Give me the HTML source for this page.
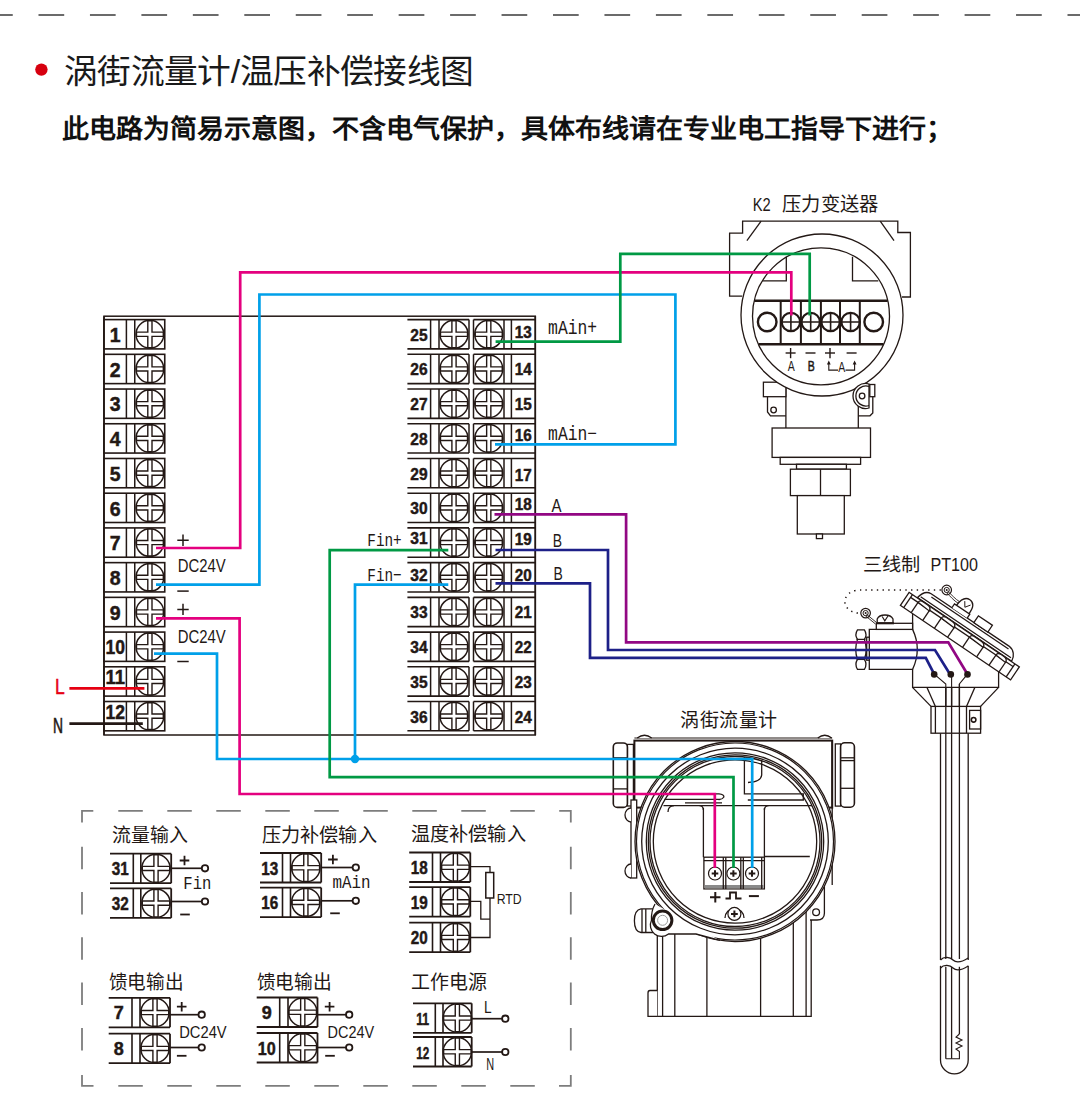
<!DOCTYPE html><html lang="zh-CN"><head><meta charset="utf-8"><style>html,body{margin:0;padding:0;background:#fff;}svg{display:block;font-family:"Liberation Sans",sans-serif;}</style></head><body>
<svg width="1080" height="1114" viewBox="0 0 1080 1114">
<line x1="-12.95" y1="15" x2="1080" y2="15" stroke="#6b6b6b" stroke-width="2.2" stroke-dasharray="25.7 25.75"/>
<circle cx="41.4" cy="69.6" r="6.2" stroke="none" stroke-width="0" fill="#d7000f" />
<text x="64" y="83" font-size="33.4" fill="#1a1a1a" font-weight="normal" text-anchor="start" font-family="Liberation Sans" textLength="409.5" lengthAdjust="spacingAndGlyphs" >涡街流量计/温压补偿接线图</text>
<text x="62" y="137.5" font-size="26" fill="#111" font-weight="bold" text-anchor="start" font-family="Liberation Sans" textLength="891" lengthAdjust="spacingAndGlyphs" >此电路为简易示意图，不含电气保护，具体布线请在专业电工指导下进行；</text>
<rect x="104" y="316.2" width="431.3" height="418.8" stroke="#231815" stroke-width="1.5" fill="none" />
<rect x="104" y="319.6" width="60.75" height="29.3" stroke="#231815" stroke-width="1.6" fill="#fff" />
<line x1="126.4" y1="319.6" x2="126.4" y2="348.9" stroke="#231815" stroke-width="1.5" />
<line x1="134.75" y1="319.6" x2="134.75" y2="348.9" stroke="#231815" stroke-width="1.5" />
<circle cx="149.9" cy="334.25" r="13.9" stroke="#231815" stroke-width="1.5" fill="#fff" />
<path d="M136 334.25 H163.8 M149.9 320.35 V348.15" stroke="#231815" stroke-width="5.6"/>
<path d="M137.2 334.25 H162.6 M149.9 321.55 V346.95" stroke="#fff" stroke-width="2.8"/>
<text x="115.2" y="342" font-size="19.5" fill="#231815" font-weight="bold" text-anchor="middle" font-family="Liberation Sans" stroke="#231815" stroke-width="0.45">1</text>
<rect x="104" y="354.32" width="60.75" height="29.3" stroke="#231815" stroke-width="1.6" fill="#fff" />
<line x1="126.4" y1="354.32" x2="126.4" y2="383.62" stroke="#231815" stroke-width="1.5" />
<line x1="134.75" y1="354.32" x2="134.75" y2="383.62" stroke="#231815" stroke-width="1.5" />
<circle cx="149.9" cy="368.97" r="13.9" stroke="#231815" stroke-width="1.5" fill="#fff" />
<path d="M136 368.97 H163.8 M149.9 355.07 V382.87" stroke="#231815" stroke-width="5.6"/>
<path d="M137.2 368.97 H162.6 M149.9 356.27 V381.67" stroke="#fff" stroke-width="2.8"/>
<text x="115.2" y="376.72" font-size="19.5" fill="#231815" font-weight="bold" text-anchor="middle" font-family="Liberation Sans" stroke="#231815" stroke-width="0.45">2</text>
<rect x="104" y="389.04" width="60.75" height="29.3" stroke="#231815" stroke-width="1.6" fill="#fff" />
<line x1="126.4" y1="389.04" x2="126.4" y2="418.34" stroke="#231815" stroke-width="1.5" />
<line x1="134.75" y1="389.04" x2="134.75" y2="418.34" stroke="#231815" stroke-width="1.5" />
<circle cx="149.9" cy="403.69" r="13.9" stroke="#231815" stroke-width="1.5" fill="#fff" />
<path d="M136 403.69 H163.8 M149.9 389.79 V417.59" stroke="#231815" stroke-width="5.6"/>
<path d="M137.2 403.69 H162.6 M149.9 390.99 V416.39" stroke="#fff" stroke-width="2.8"/>
<text x="115.2" y="411.44" font-size="19.5" fill="#231815" font-weight="bold" text-anchor="middle" font-family="Liberation Sans" stroke="#231815" stroke-width="0.45">3</text>
<rect x="104" y="423.76" width="60.75" height="29.3" stroke="#231815" stroke-width="1.6" fill="#fff" />
<line x1="126.4" y1="423.76" x2="126.4" y2="453.06" stroke="#231815" stroke-width="1.5" />
<line x1="134.75" y1="423.76" x2="134.75" y2="453.06" stroke="#231815" stroke-width="1.5" />
<circle cx="149.9" cy="438.41" r="13.9" stroke="#231815" stroke-width="1.5" fill="#fff" />
<path d="M136 438.41 H163.8 M149.9 424.51 V452.31" stroke="#231815" stroke-width="5.6"/>
<path d="M137.2 438.41 H162.6 M149.9 425.71 V451.11" stroke="#fff" stroke-width="2.8"/>
<text x="115.2" y="446.16" font-size="19.5" fill="#231815" font-weight="bold" text-anchor="middle" font-family="Liberation Sans" stroke="#231815" stroke-width="0.45">4</text>
<rect x="104" y="458.48" width="60.75" height="29.3" stroke="#231815" stroke-width="1.6" fill="#fff" />
<line x1="126.4" y1="458.48" x2="126.4" y2="487.78" stroke="#231815" stroke-width="1.5" />
<line x1="134.75" y1="458.48" x2="134.75" y2="487.78" stroke="#231815" stroke-width="1.5" />
<circle cx="149.9" cy="473.13" r="13.9" stroke="#231815" stroke-width="1.5" fill="#fff" />
<path d="M136 473.13 H163.8 M149.9 459.23 V487.03" stroke="#231815" stroke-width="5.6"/>
<path d="M137.2 473.13 H162.6 M149.9 460.43 V485.83" stroke="#fff" stroke-width="2.8"/>
<text x="115.2" y="480.88" font-size="19.5" fill="#231815" font-weight="bold" text-anchor="middle" font-family="Liberation Sans" stroke="#231815" stroke-width="0.45">5</text>
<rect x="104" y="493.2" width="60.75" height="29.3" stroke="#231815" stroke-width="1.6" fill="#fff" />
<line x1="126.4" y1="493.2" x2="126.4" y2="522.5" stroke="#231815" stroke-width="1.5" />
<line x1="134.75" y1="493.2" x2="134.75" y2="522.5" stroke="#231815" stroke-width="1.5" />
<circle cx="149.9" cy="507.85" r="13.9" stroke="#231815" stroke-width="1.5" fill="#fff" />
<path d="M136 507.85 H163.8 M149.9 493.95 V521.75" stroke="#231815" stroke-width="5.6"/>
<path d="M137.2 507.85 H162.6 M149.9 495.15 V520.55" stroke="#fff" stroke-width="2.8"/>
<text x="115.2" y="515.6" font-size="19.5" fill="#231815" font-weight="bold" text-anchor="middle" font-family="Liberation Sans" stroke="#231815" stroke-width="0.45">6</text>
<rect x="104" y="527.92" width="60.75" height="29.3" stroke="#231815" stroke-width="1.6" fill="#fff" />
<line x1="126.4" y1="527.92" x2="126.4" y2="557.22" stroke="#231815" stroke-width="1.5" />
<line x1="134.75" y1="527.92" x2="134.75" y2="557.22" stroke="#231815" stroke-width="1.5" />
<circle cx="149.9" cy="542.57" r="13.9" stroke="#231815" stroke-width="1.5" fill="#fff" />
<path d="M136 542.57 H163.8 M149.9 528.67 V556.47" stroke="#231815" stroke-width="5.6"/>
<path d="M137.2 542.57 H162.6 M149.9 529.87 V555.27" stroke="#fff" stroke-width="2.8"/>
<text x="115.2" y="550.32" font-size="19.5" fill="#231815" font-weight="bold" text-anchor="middle" font-family="Liberation Sans" stroke="#231815" stroke-width="0.45">7</text>
<rect x="104" y="562.64" width="60.75" height="29.3" stroke="#231815" stroke-width="1.6" fill="#fff" />
<line x1="126.4" y1="562.64" x2="126.4" y2="591.94" stroke="#231815" stroke-width="1.5" />
<line x1="134.75" y1="562.64" x2="134.75" y2="591.94" stroke="#231815" stroke-width="1.5" />
<circle cx="149.9" cy="577.29" r="13.9" stroke="#231815" stroke-width="1.5" fill="#fff" />
<path d="M136 577.29 H163.8 M149.9 563.39 V591.19" stroke="#231815" stroke-width="5.6"/>
<path d="M137.2 577.29 H162.6 M149.9 564.59 V589.99" stroke="#fff" stroke-width="2.8"/>
<text x="115.2" y="585.04" font-size="19.5" fill="#231815" font-weight="bold" text-anchor="middle" font-family="Liberation Sans" stroke="#231815" stroke-width="0.45">8</text>
<rect x="104" y="597.36" width="60.75" height="29.3" stroke="#231815" stroke-width="1.6" fill="#fff" />
<line x1="126.4" y1="597.36" x2="126.4" y2="626.66" stroke="#231815" stroke-width="1.5" />
<line x1="134.75" y1="597.36" x2="134.75" y2="626.66" stroke="#231815" stroke-width="1.5" />
<circle cx="149.9" cy="612.01" r="13.9" stroke="#231815" stroke-width="1.5" fill="#fff" />
<path d="M136 612.01 H163.8 M149.9 598.11 V625.91" stroke="#231815" stroke-width="5.6"/>
<path d="M137.2 612.01 H162.6 M149.9 599.31 V624.71" stroke="#fff" stroke-width="2.8"/>
<text x="115.2" y="619.76" font-size="19.5" fill="#231815" font-weight="bold" text-anchor="middle" font-family="Liberation Sans" stroke="#231815" stroke-width="0.45">9</text>
<rect x="104" y="632.08" width="60.75" height="29.3" stroke="#231815" stroke-width="1.6" fill="#fff" />
<line x1="126.4" y1="632.08" x2="126.4" y2="661.38" stroke="#231815" stroke-width="1.5" />
<line x1="134.75" y1="632.08" x2="134.75" y2="661.38" stroke="#231815" stroke-width="1.5" />
<circle cx="149.9" cy="646.73" r="13.9" stroke="#231815" stroke-width="1.5" fill="#fff" />
<path d="M136 646.73 H163.8 M149.9 632.83 V660.63" stroke="#231815" stroke-width="5.6"/>
<path d="M137.2 646.73 H162.6 M149.9 634.03 V659.43" stroke="#fff" stroke-width="2.8"/>
<text x="115.2" y="654.48" font-size="19.5" fill="#231815" font-weight="bold" text-anchor="middle" font-family="Liberation Sans" textLength="19.5" lengthAdjust="spacingAndGlyphs" stroke="#231815" stroke-width="0.45">10</text>
<rect x="104" y="666.8" width="60.75" height="29.3" stroke="#231815" stroke-width="1.6" fill="#fff" />
<line x1="126.4" y1="666.8" x2="126.4" y2="696.1" stroke="#231815" stroke-width="1.5" />
<line x1="134.75" y1="666.8" x2="134.75" y2="696.1" stroke="#231815" stroke-width="1.5" />
<circle cx="149.9" cy="681.45" r="13.9" stroke="#231815" stroke-width="1.5" fill="#fff" />
<path d="M136 681.45 H163.8 M149.9 667.55 V695.35" stroke="#231815" stroke-width="5.6"/>
<path d="M137.2 681.45 H162.6 M149.9 668.75 V694.15" stroke="#fff" stroke-width="2.8"/>
<text x="115.2" y="684.1" font-size="19.5" fill="#231815" font-weight="bold" text-anchor="middle" font-family="Liberation Sans" textLength="19.5" lengthAdjust="spacingAndGlyphs" stroke="#231815" stroke-width="0.45">11</text>
<rect x="104" y="701.52" width="60.75" height="29.3" stroke="#231815" stroke-width="1.6" fill="#fff" />
<line x1="126.4" y1="701.52" x2="126.4" y2="730.82" stroke="#231815" stroke-width="1.5" />
<line x1="134.75" y1="701.52" x2="134.75" y2="730.82" stroke="#231815" stroke-width="1.5" />
<circle cx="149.9" cy="716.17" r="13.9" stroke="#231815" stroke-width="1.5" fill="#fff" />
<path d="M136 716.17 H163.8 M149.9 702.27 V730.07" stroke="#231815" stroke-width="5.6"/>
<path d="M137.2 716.17 H162.6 M149.9 703.47 V728.87" stroke="#fff" stroke-width="2.8"/>
<text x="115.2" y="718.82" font-size="19.5" fill="#231815" font-weight="bold" text-anchor="middle" font-family="Liberation Sans" textLength="19.5" lengthAdjust="spacingAndGlyphs" stroke="#231815" stroke-width="0.45">12</text>
<line x1="407.4" y1="319.6" x2="469" y2="319.6" stroke="#231815" stroke-width="1.6" />
<line x1="407.4" y1="348.9" x2="469" y2="348.9" stroke="#231815" stroke-width="1.6" />
<line x1="473.5" y1="319.6" x2="535" y2="319.6" stroke="#231815" stroke-width="1.6" />
<line x1="473.5" y1="348.9" x2="535" y2="348.9" stroke="#231815" stroke-width="1.6" />
<line x1="430.6" y1="319.6" x2="430.6" y2="348.9" stroke="#231815" stroke-width="1.5" />
<line x1="439" y1="319.6" x2="439" y2="348.9" stroke="#231815" stroke-width="1.5" />
<line x1="469" y1="319.6" x2="469" y2="348.9" stroke="#231815" stroke-width="1.5" />
<line x1="473.5" y1="319.6" x2="473.5" y2="348.9" stroke="#231815" stroke-width="1.5" />
<line x1="504" y1="319.6" x2="504" y2="348.9" stroke="#231815" stroke-width="1.5" />
<line x1="511.4" y1="319.6" x2="511.4" y2="348.9" stroke="#231815" stroke-width="1.5" />
<circle cx="454" cy="334.25" r="14" stroke="#231815" stroke-width="1.5" fill="#fff" />
<path d="M440 334.25 H468 M454 320.25 V348.25" stroke="#231815" stroke-width="5.6"/>
<path d="M441.2 334.25 H466.8 M454 321.45 V347.05" stroke="#fff" stroke-width="2.8"/>
<circle cx="488.75" cy="334.25" r="14" stroke="#231815" stroke-width="1.5" fill="#fff" />
<path d="M474.75 334.25 H502.75 M488.75 320.25 V348.25" stroke="#231815" stroke-width="5.6"/>
<path d="M475.95 334.25 H501.55 M488.75 321.45 V347.05" stroke="#fff" stroke-width="2.8"/>
<text x="419" y="340.7" font-size="16.5" fill="#231815" font-weight="bold" text-anchor="middle" font-family="Liberation Sans" textLength="17.3" lengthAdjust="spacingAndGlyphs" stroke="#231815" stroke-width="0.45">25</text>
<text x="523.2" y="337.8" font-size="16.5" fill="#231815" font-weight="bold" text-anchor="middle" font-family="Liberation Sans" textLength="17" lengthAdjust="spacingAndGlyphs" stroke="#231815" stroke-width="0.45">13</text>
<line x1="407.4" y1="354.32" x2="469" y2="354.32" stroke="#231815" stroke-width="1.6" />
<line x1="407.4" y1="383.62" x2="469" y2="383.62" stroke="#231815" stroke-width="1.6" />
<line x1="473.5" y1="354.32" x2="535" y2="354.32" stroke="#231815" stroke-width="1.6" />
<line x1="473.5" y1="383.62" x2="535" y2="383.62" stroke="#231815" stroke-width="1.6" />
<line x1="430.6" y1="354.32" x2="430.6" y2="383.62" stroke="#231815" stroke-width="1.5" />
<line x1="439" y1="354.32" x2="439" y2="383.62" stroke="#231815" stroke-width="1.5" />
<line x1="469" y1="354.32" x2="469" y2="383.62" stroke="#231815" stroke-width="1.5" />
<line x1="473.5" y1="354.32" x2="473.5" y2="383.62" stroke="#231815" stroke-width="1.5" />
<line x1="504" y1="354.32" x2="504" y2="383.62" stroke="#231815" stroke-width="1.5" />
<line x1="511.4" y1="354.32" x2="511.4" y2="383.62" stroke="#231815" stroke-width="1.5" />
<circle cx="454" cy="368.97" r="14" stroke="#231815" stroke-width="1.5" fill="#fff" />
<path d="M440 368.97 H468 M454 354.97 V382.97" stroke="#231815" stroke-width="5.6"/>
<path d="M441.2 368.97 H466.8 M454 356.17 V381.77" stroke="#fff" stroke-width="2.8"/>
<circle cx="488.75" cy="368.97" r="14" stroke="#231815" stroke-width="1.5" fill="#fff" />
<path d="M474.75 368.97 H502.75 M488.75 354.97 V382.97" stroke="#231815" stroke-width="5.6"/>
<path d="M475.95 368.97 H501.55 M488.75 356.17 V381.77" stroke="#fff" stroke-width="2.8"/>
<text x="419" y="375.42" font-size="16.5" fill="#231815" font-weight="bold" text-anchor="middle" font-family="Liberation Sans" textLength="17.3" lengthAdjust="spacingAndGlyphs" stroke="#231815" stroke-width="0.45">26</text>
<text x="523.2" y="375.02" font-size="16.5" fill="#231815" font-weight="bold" text-anchor="middle" font-family="Liberation Sans" textLength="17" lengthAdjust="spacingAndGlyphs" stroke="#231815" stroke-width="0.45">14</text>
<line x1="407.4" y1="389.04" x2="469" y2="389.04" stroke="#231815" stroke-width="1.6" />
<line x1="407.4" y1="418.34" x2="469" y2="418.34" stroke="#231815" stroke-width="1.6" />
<line x1="473.5" y1="389.04" x2="535" y2="389.04" stroke="#231815" stroke-width="1.6" />
<line x1="473.5" y1="418.34" x2="535" y2="418.34" stroke="#231815" stroke-width="1.6" />
<line x1="430.6" y1="389.04" x2="430.6" y2="418.34" stroke="#231815" stroke-width="1.5" />
<line x1="439" y1="389.04" x2="439" y2="418.34" stroke="#231815" stroke-width="1.5" />
<line x1="469" y1="389.04" x2="469" y2="418.34" stroke="#231815" stroke-width="1.5" />
<line x1="473.5" y1="389.04" x2="473.5" y2="418.34" stroke="#231815" stroke-width="1.5" />
<line x1="504" y1="389.04" x2="504" y2="418.34" stroke="#231815" stroke-width="1.5" />
<line x1="511.4" y1="389.04" x2="511.4" y2="418.34" stroke="#231815" stroke-width="1.5" />
<circle cx="454" cy="403.69" r="14" stroke="#231815" stroke-width="1.5" fill="#fff" />
<path d="M440 403.69 H468 M454 389.69 V417.69" stroke="#231815" stroke-width="5.6"/>
<path d="M441.2 403.69 H466.8 M454 390.89 V416.49" stroke="#fff" stroke-width="2.8"/>
<circle cx="488.75" cy="403.69" r="14" stroke="#231815" stroke-width="1.5" fill="#fff" />
<path d="M474.75 403.69 H502.75 M488.75 389.69 V417.69" stroke="#231815" stroke-width="5.6"/>
<path d="M475.95 403.69 H501.55 M488.75 390.89 V416.49" stroke="#fff" stroke-width="2.8"/>
<text x="419" y="410.14" font-size="16.5" fill="#231815" font-weight="bold" text-anchor="middle" font-family="Liberation Sans" textLength="17.3" lengthAdjust="spacingAndGlyphs" stroke="#231815" stroke-width="0.45">27</text>
<text x="523.2" y="409.84" font-size="16.5" fill="#231815" font-weight="bold" text-anchor="middle" font-family="Liberation Sans" textLength="17" lengthAdjust="spacingAndGlyphs" stroke="#231815" stroke-width="0.45">15</text>
<line x1="407.4" y1="423.76" x2="469" y2="423.76" stroke="#231815" stroke-width="1.6" />
<line x1="407.4" y1="453.06" x2="469" y2="453.06" stroke="#231815" stroke-width="1.6" />
<line x1="473.5" y1="423.76" x2="535" y2="423.76" stroke="#231815" stroke-width="1.6" />
<line x1="473.5" y1="453.06" x2="535" y2="453.06" stroke="#231815" stroke-width="1.6" />
<line x1="430.6" y1="423.76" x2="430.6" y2="453.06" stroke="#231815" stroke-width="1.5" />
<line x1="439" y1="423.76" x2="439" y2="453.06" stroke="#231815" stroke-width="1.5" />
<line x1="469" y1="423.76" x2="469" y2="453.06" stroke="#231815" stroke-width="1.5" />
<line x1="473.5" y1="423.76" x2="473.5" y2="453.06" stroke="#231815" stroke-width="1.5" />
<line x1="504" y1="423.76" x2="504" y2="453.06" stroke="#231815" stroke-width="1.5" />
<line x1="511.4" y1="423.76" x2="511.4" y2="453.06" stroke="#231815" stroke-width="1.5" />
<circle cx="454" cy="438.41" r="14" stroke="#231815" stroke-width="1.5" fill="#fff" />
<path d="M440 438.41 H468 M454 424.41 V452.41" stroke="#231815" stroke-width="5.6"/>
<path d="M441.2 438.41 H466.8 M454 425.61 V451.21" stroke="#fff" stroke-width="2.8"/>
<circle cx="488.75" cy="438.41" r="14" stroke="#231815" stroke-width="1.5" fill="#fff" />
<path d="M474.75 438.41 H502.75 M488.75 424.41 V452.41" stroke="#231815" stroke-width="5.6"/>
<path d="M475.95 438.41 H501.55 M488.75 425.61 V451.21" stroke="#fff" stroke-width="2.8"/>
<text x="419" y="444.86" font-size="16.5" fill="#231815" font-weight="bold" text-anchor="middle" font-family="Liberation Sans" textLength="17.3" lengthAdjust="spacingAndGlyphs" stroke="#231815" stroke-width="0.45">28</text>
<text x="523.2" y="440.96" font-size="16.5" fill="#231815" font-weight="bold" text-anchor="middle" font-family="Liberation Sans" textLength="17" lengthAdjust="spacingAndGlyphs" stroke="#231815" stroke-width="0.45">16</text>
<line x1="407.4" y1="458.48" x2="469" y2="458.48" stroke="#231815" stroke-width="1.6" />
<line x1="407.4" y1="487.78" x2="469" y2="487.78" stroke="#231815" stroke-width="1.6" />
<line x1="473.5" y1="458.48" x2="535" y2="458.48" stroke="#231815" stroke-width="1.6" />
<line x1="473.5" y1="487.78" x2="535" y2="487.78" stroke="#231815" stroke-width="1.6" />
<line x1="430.6" y1="458.48" x2="430.6" y2="487.78" stroke="#231815" stroke-width="1.5" />
<line x1="439" y1="458.48" x2="439" y2="487.78" stroke="#231815" stroke-width="1.5" />
<line x1="469" y1="458.48" x2="469" y2="487.78" stroke="#231815" stroke-width="1.5" />
<line x1="473.5" y1="458.48" x2="473.5" y2="487.78" stroke="#231815" stroke-width="1.5" />
<line x1="504" y1="458.48" x2="504" y2="487.78" stroke="#231815" stroke-width="1.5" />
<line x1="511.4" y1="458.48" x2="511.4" y2="487.78" stroke="#231815" stroke-width="1.5" />
<circle cx="454" cy="473.13" r="14" stroke="#231815" stroke-width="1.5" fill="#fff" />
<path d="M440 473.13 H468 M454 459.13 V487.13" stroke="#231815" stroke-width="5.6"/>
<path d="M441.2 473.13 H466.8 M454 460.33 V485.93" stroke="#fff" stroke-width="2.8"/>
<circle cx="488.75" cy="473.13" r="14" stroke="#231815" stroke-width="1.5" fill="#fff" />
<path d="M474.75 473.13 H502.75 M488.75 459.13 V487.13" stroke="#231815" stroke-width="5.6"/>
<path d="M475.95 473.13 H501.55 M488.75 460.33 V485.93" stroke="#fff" stroke-width="2.8"/>
<text x="419" y="479.58" font-size="16.5" fill="#231815" font-weight="bold" text-anchor="middle" font-family="Liberation Sans" textLength="17.3" lengthAdjust="spacingAndGlyphs" stroke="#231815" stroke-width="0.45">29</text>
<text x="523.2" y="480.68" font-size="16.5" fill="#231815" font-weight="bold" text-anchor="middle" font-family="Liberation Sans" textLength="17" lengthAdjust="spacingAndGlyphs" stroke="#231815" stroke-width="0.45">17</text>
<line x1="407.4" y1="493.2" x2="469" y2="493.2" stroke="#231815" stroke-width="1.6" />
<line x1="407.4" y1="522.5" x2="469" y2="522.5" stroke="#231815" stroke-width="1.6" />
<line x1="473.5" y1="493.2" x2="535" y2="493.2" stroke="#231815" stroke-width="1.6" />
<line x1="473.5" y1="522.5" x2="535" y2="522.5" stroke="#231815" stroke-width="1.6" />
<line x1="430.6" y1="493.2" x2="430.6" y2="522.5" stroke="#231815" stroke-width="1.5" />
<line x1="439" y1="493.2" x2="439" y2="522.5" stroke="#231815" stroke-width="1.5" />
<line x1="469" y1="493.2" x2="469" y2="522.5" stroke="#231815" stroke-width="1.5" />
<line x1="473.5" y1="493.2" x2="473.5" y2="522.5" stroke="#231815" stroke-width="1.5" />
<line x1="504" y1="493.2" x2="504" y2="522.5" stroke="#231815" stroke-width="1.5" />
<line x1="511.4" y1="493.2" x2="511.4" y2="522.5" stroke="#231815" stroke-width="1.5" />
<circle cx="454" cy="507.85" r="14" stroke="#231815" stroke-width="1.5" fill="#fff" />
<path d="M440 507.85 H468 M454 493.85 V521.85" stroke="#231815" stroke-width="5.6"/>
<path d="M441.2 507.85 H466.8 M454 495.05 V520.65" stroke="#fff" stroke-width="2.8"/>
<circle cx="488.75" cy="507.85" r="14" stroke="#231815" stroke-width="1.5" fill="#fff" />
<path d="M474.75 507.85 H502.75 M488.75 493.85 V521.85" stroke="#231815" stroke-width="5.6"/>
<path d="M475.95 507.85 H501.55 M488.75 495.05 V520.65" stroke="#fff" stroke-width="2.8"/>
<text x="419" y="514.3" font-size="16.5" fill="#231815" font-weight="bold" text-anchor="middle" font-family="Liberation Sans" textLength="17.3" lengthAdjust="spacingAndGlyphs" stroke="#231815" stroke-width="0.45">30</text>
<text x="523.2" y="509.8" font-size="16.5" fill="#231815" font-weight="bold" text-anchor="middle" font-family="Liberation Sans" textLength="17" lengthAdjust="spacingAndGlyphs" stroke="#231815" stroke-width="0.45">18</text>
<line x1="407.4" y1="527.92" x2="469" y2="527.92" stroke="#231815" stroke-width="1.6" />
<line x1="407.4" y1="557.22" x2="469" y2="557.22" stroke="#231815" stroke-width="1.6" />
<line x1="473.5" y1="527.92" x2="535" y2="527.92" stroke="#231815" stroke-width="1.6" />
<line x1="473.5" y1="557.22" x2="535" y2="557.22" stroke="#231815" stroke-width="1.6" />
<line x1="430.6" y1="527.92" x2="430.6" y2="557.22" stroke="#231815" stroke-width="1.5" />
<line x1="439" y1="527.92" x2="439" y2="557.22" stroke="#231815" stroke-width="1.5" />
<line x1="469" y1="527.92" x2="469" y2="557.22" stroke="#231815" stroke-width="1.5" />
<line x1="473.5" y1="527.92" x2="473.5" y2="557.22" stroke="#231815" stroke-width="1.5" />
<line x1="504" y1="527.92" x2="504" y2="557.22" stroke="#231815" stroke-width="1.5" />
<line x1="511.4" y1="527.92" x2="511.4" y2="557.22" stroke="#231815" stroke-width="1.5" />
<circle cx="454" cy="542.57" r="14" stroke="#231815" stroke-width="1.5" fill="#fff" />
<path d="M440 542.57 H468 M454 528.57 V556.57" stroke="#231815" stroke-width="5.6"/>
<path d="M441.2 542.57 H466.8 M454 529.77 V555.37" stroke="#fff" stroke-width="2.8"/>
<circle cx="488.75" cy="542.57" r="14" stroke="#231815" stroke-width="1.5" fill="#fff" />
<path d="M474.75 542.57 H502.75 M488.75 528.57 V556.57" stroke="#231815" stroke-width="5.6"/>
<path d="M475.95 542.57 H501.55 M488.75 529.77 V555.37" stroke="#fff" stroke-width="2.8"/>
<text x="419" y="544.22" font-size="16.5" fill="#231815" font-weight="bold" text-anchor="middle" font-family="Liberation Sans" textLength="17.3" lengthAdjust="spacingAndGlyphs" stroke="#231815" stroke-width="0.45">31</text>
<text x="523.2" y="545.42" font-size="16.5" fill="#231815" font-weight="bold" text-anchor="middle" font-family="Liberation Sans" textLength="17" lengthAdjust="spacingAndGlyphs" stroke="#231815" stroke-width="0.45">19</text>
<line x1="407.4" y1="562.64" x2="469" y2="562.64" stroke="#231815" stroke-width="1.6" />
<line x1="407.4" y1="591.94" x2="469" y2="591.94" stroke="#231815" stroke-width="1.6" />
<line x1="473.5" y1="562.64" x2="535" y2="562.64" stroke="#231815" stroke-width="1.6" />
<line x1="473.5" y1="591.94" x2="535" y2="591.94" stroke="#231815" stroke-width="1.6" />
<line x1="430.6" y1="562.64" x2="430.6" y2="591.94" stroke="#231815" stroke-width="1.5" />
<line x1="439" y1="562.64" x2="439" y2="591.94" stroke="#231815" stroke-width="1.5" />
<line x1="469" y1="562.64" x2="469" y2="591.94" stroke="#231815" stroke-width="1.5" />
<line x1="473.5" y1="562.64" x2="473.5" y2="591.94" stroke="#231815" stroke-width="1.5" />
<line x1="504" y1="562.64" x2="504" y2="591.94" stroke="#231815" stroke-width="1.5" />
<line x1="511.4" y1="562.64" x2="511.4" y2="591.94" stroke="#231815" stroke-width="1.5" />
<circle cx="454" cy="577.29" r="14" stroke="#231815" stroke-width="1.5" fill="#fff" />
<path d="M440 577.29 H468 M454 563.29 V591.29" stroke="#231815" stroke-width="5.6"/>
<path d="M441.2 577.29 H466.8 M454 564.49 V590.09" stroke="#fff" stroke-width="2.8"/>
<circle cx="488.75" cy="577.29" r="14" stroke="#231815" stroke-width="1.5" fill="#fff" />
<path d="M474.75 577.29 H502.75 M488.75 563.29 V591.29" stroke="#231815" stroke-width="5.6"/>
<path d="M475.95 577.29 H501.55 M488.75 564.49 V590.09" stroke="#fff" stroke-width="2.8"/>
<text x="419" y="580.84" font-size="16.5" fill="#231815" font-weight="bold" text-anchor="middle" font-family="Liberation Sans" textLength="17.3" lengthAdjust="spacingAndGlyphs" stroke="#231815" stroke-width="0.45">32</text>
<text x="523.2" y="580.64" font-size="16.5" fill="#231815" font-weight="bold" text-anchor="middle" font-family="Liberation Sans" textLength="17" lengthAdjust="spacingAndGlyphs" stroke="#231815" stroke-width="0.45">20</text>
<line x1="407.4" y1="597.36" x2="469" y2="597.36" stroke="#231815" stroke-width="1.6" />
<line x1="407.4" y1="626.66" x2="469" y2="626.66" stroke="#231815" stroke-width="1.6" />
<line x1="473.5" y1="597.36" x2="535" y2="597.36" stroke="#231815" stroke-width="1.6" />
<line x1="473.5" y1="626.66" x2="535" y2="626.66" stroke="#231815" stroke-width="1.6" />
<line x1="430.6" y1="597.36" x2="430.6" y2="626.66" stroke="#231815" stroke-width="1.5" />
<line x1="439" y1="597.36" x2="439" y2="626.66" stroke="#231815" stroke-width="1.5" />
<line x1="469" y1="597.36" x2="469" y2="626.66" stroke="#231815" stroke-width="1.5" />
<line x1="473.5" y1="597.36" x2="473.5" y2="626.66" stroke="#231815" stroke-width="1.5" />
<line x1="504" y1="597.36" x2="504" y2="626.66" stroke="#231815" stroke-width="1.5" />
<line x1="511.4" y1="597.36" x2="511.4" y2="626.66" stroke="#231815" stroke-width="1.5" />
<circle cx="454" cy="612.01" r="14" stroke="#231815" stroke-width="1.5" fill="#fff" />
<path d="M440 612.01 H468 M454 598.01 V626.01" stroke="#231815" stroke-width="5.6"/>
<path d="M441.2 612.01 H466.8 M454 599.21 V624.81" stroke="#fff" stroke-width="2.8"/>
<circle cx="488.75" cy="612.01" r="14" stroke="#231815" stroke-width="1.5" fill="#fff" />
<path d="M474.75 612.01 H502.75 M488.75 598.01 V626.01" stroke="#231815" stroke-width="5.6"/>
<path d="M475.95 612.01 H501.55 M488.75 599.21 V624.81" stroke="#fff" stroke-width="2.8"/>
<text x="419" y="618.46" font-size="16.5" fill="#231815" font-weight="bold" text-anchor="middle" font-family="Liberation Sans" textLength="17.3" lengthAdjust="spacingAndGlyphs" stroke="#231815" stroke-width="0.45">33</text>
<text x="523.2" y="618.36" font-size="16.5" fill="#231815" font-weight="bold" text-anchor="middle" font-family="Liberation Sans" textLength="17" lengthAdjust="spacingAndGlyphs" stroke="#231815" stroke-width="0.45">21</text>
<line x1="407.4" y1="632.08" x2="469" y2="632.08" stroke="#231815" stroke-width="1.6" />
<line x1="407.4" y1="661.38" x2="469" y2="661.38" stroke="#231815" stroke-width="1.6" />
<line x1="473.5" y1="632.08" x2="535" y2="632.08" stroke="#231815" stroke-width="1.6" />
<line x1="473.5" y1="661.38" x2="535" y2="661.38" stroke="#231815" stroke-width="1.6" />
<line x1="430.6" y1="632.08" x2="430.6" y2="661.38" stroke="#231815" stroke-width="1.5" />
<line x1="439" y1="632.08" x2="439" y2="661.38" stroke="#231815" stroke-width="1.5" />
<line x1="469" y1="632.08" x2="469" y2="661.38" stroke="#231815" stroke-width="1.5" />
<line x1="473.5" y1="632.08" x2="473.5" y2="661.38" stroke="#231815" stroke-width="1.5" />
<line x1="504" y1="632.08" x2="504" y2="661.38" stroke="#231815" stroke-width="1.5" />
<line x1="511.4" y1="632.08" x2="511.4" y2="661.38" stroke="#231815" stroke-width="1.5" />
<circle cx="454" cy="646.73" r="14" stroke="#231815" stroke-width="1.5" fill="#fff" />
<path d="M440 646.73 H468 M454 632.73 V660.73" stroke="#231815" stroke-width="5.6"/>
<path d="M441.2 646.73 H466.8 M454 633.93 V659.53" stroke="#fff" stroke-width="2.8"/>
<circle cx="488.75" cy="646.73" r="14" stroke="#231815" stroke-width="1.5" fill="#fff" />
<path d="M474.75 646.73 H502.75 M488.75 632.73 V660.73" stroke="#231815" stroke-width="5.6"/>
<path d="M475.95 646.73 H501.55 M488.75 633.93 V659.53" stroke="#fff" stroke-width="2.8"/>
<text x="419" y="653.18" font-size="16.5" fill="#231815" font-weight="bold" text-anchor="middle" font-family="Liberation Sans" textLength="17.3" lengthAdjust="spacingAndGlyphs" stroke="#231815" stroke-width="0.45">34</text>
<text x="523.2" y="652.58" font-size="16.5" fill="#231815" font-weight="bold" text-anchor="middle" font-family="Liberation Sans" textLength="17" lengthAdjust="spacingAndGlyphs" stroke="#231815" stroke-width="0.45">22</text>
<line x1="407.4" y1="666.8" x2="469" y2="666.8" stroke="#231815" stroke-width="1.6" />
<line x1="407.4" y1="696.1" x2="469" y2="696.1" stroke="#231815" stroke-width="1.6" />
<line x1="473.5" y1="666.8" x2="535" y2="666.8" stroke="#231815" stroke-width="1.6" />
<line x1="473.5" y1="696.1" x2="535" y2="696.1" stroke="#231815" stroke-width="1.6" />
<line x1="430.6" y1="666.8" x2="430.6" y2="696.1" stroke="#231815" stroke-width="1.5" />
<line x1="439" y1="666.8" x2="439" y2="696.1" stroke="#231815" stroke-width="1.5" />
<line x1="469" y1="666.8" x2="469" y2="696.1" stroke="#231815" stroke-width="1.5" />
<line x1="473.5" y1="666.8" x2="473.5" y2="696.1" stroke="#231815" stroke-width="1.5" />
<line x1="504" y1="666.8" x2="504" y2="696.1" stroke="#231815" stroke-width="1.5" />
<line x1="511.4" y1="666.8" x2="511.4" y2="696.1" stroke="#231815" stroke-width="1.5" />
<circle cx="454" cy="681.45" r="14" stroke="#231815" stroke-width="1.5" fill="#fff" />
<path d="M440 681.45 H468 M454 667.45 V695.45" stroke="#231815" stroke-width="5.6"/>
<path d="M441.2 681.45 H466.8 M454 668.65 V694.25" stroke="#fff" stroke-width="2.8"/>
<circle cx="488.75" cy="681.45" r="14" stroke="#231815" stroke-width="1.5" fill="#fff" />
<path d="M474.75 681.45 H502.75 M488.75 667.45 V695.45" stroke="#231815" stroke-width="5.6"/>
<path d="M475.95 681.45 H501.55 M488.75 668.65 V694.25" stroke="#fff" stroke-width="2.8"/>
<text x="419" y="687.9" font-size="16.5" fill="#231815" font-weight="bold" text-anchor="middle" font-family="Liberation Sans" textLength="17.3" lengthAdjust="spacingAndGlyphs" stroke="#231815" stroke-width="0.45">35</text>
<text x="523.2" y="688.3" font-size="16.5" fill="#231815" font-weight="bold" text-anchor="middle" font-family="Liberation Sans" textLength="17" lengthAdjust="spacingAndGlyphs" stroke="#231815" stroke-width="0.45">23</text>
<line x1="407.4" y1="701.52" x2="469" y2="701.52" stroke="#231815" stroke-width="1.6" />
<line x1="407.4" y1="730.82" x2="469" y2="730.82" stroke="#231815" stroke-width="1.6" />
<line x1="473.5" y1="701.52" x2="535" y2="701.52" stroke="#231815" stroke-width="1.6" />
<line x1="473.5" y1="730.82" x2="535" y2="730.82" stroke="#231815" stroke-width="1.6" />
<line x1="430.6" y1="701.52" x2="430.6" y2="730.82" stroke="#231815" stroke-width="1.5" />
<line x1="439" y1="701.52" x2="439" y2="730.82" stroke="#231815" stroke-width="1.5" />
<line x1="469" y1="701.52" x2="469" y2="730.82" stroke="#231815" stroke-width="1.5" />
<line x1="473.5" y1="701.52" x2="473.5" y2="730.82" stroke="#231815" stroke-width="1.5" />
<line x1="504" y1="701.52" x2="504" y2="730.82" stroke="#231815" stroke-width="1.5" />
<line x1="511.4" y1="701.52" x2="511.4" y2="730.82" stroke="#231815" stroke-width="1.5" />
<circle cx="454" cy="716.17" r="14" stroke="#231815" stroke-width="1.5" fill="#fff" />
<path d="M440 716.17 H468 M454 702.17 V730.17" stroke="#231815" stroke-width="5.6"/>
<path d="M441.2 716.17 H466.8 M454 703.37 V728.97" stroke="#fff" stroke-width="2.8"/>
<circle cx="488.75" cy="716.17" r="14" stroke="#231815" stroke-width="1.5" fill="#fff" />
<path d="M474.75 716.17 H502.75 M488.75 702.17 V730.17" stroke="#231815" stroke-width="5.6"/>
<path d="M475.95 716.17 H501.55 M488.75 703.37 V728.97" stroke="#fff" stroke-width="2.8"/>
<text x="419" y="722.62" font-size="16.5" fill="#231815" font-weight="bold" text-anchor="middle" font-family="Liberation Sans" textLength="17.3" lengthAdjust="spacingAndGlyphs" stroke="#231815" stroke-width="0.45">36</text>
<text x="523.2" y="723.02" font-size="16.5" fill="#231815" font-weight="bold" text-anchor="middle" font-family="Liberation Sans" textLength="17" lengthAdjust="spacingAndGlyphs" stroke="#231815" stroke-width="0.45">24</text>
<line x1="535.3" y1="316.2" x2="535.3" y2="735" stroke="#231815" stroke-width="1.6" />
<line x1="104" y1="316.2" x2="104" y2="735" stroke="#231815" stroke-width="1.6" />
<text x="752.8" y="211" font-size="17.5" fill="#231815" font-weight="normal" text-anchor="start" font-family="Liberation Sans" textLength="18" lengthAdjust="spacingAndGlyphs" >K2</text>
<text x="782" y="210.6" font-size="19" fill="#231815" font-weight="normal" text-anchor="start" font-family="Liberation Sans" textLength="96.5" lengthAdjust="spacingAndGlyphs" >压力变送器</text>
<path d="M742.2 296.1 L729.6 296.1 L729.6 233.1 L742.6 233.1 L742.6 221.1 L897.8 221.1 L897.8 232.5 L910.4 232.5 L910.4 297 L902 297" stroke="#231815" stroke-width="1.3" fill="none" />
<line x1="761.1" y1="221.1" x2="746.9" y2="240.6" stroke="#231815" stroke-width="1.3" />
<line x1="880.2" y1="221.1" x2="894" y2="240.6" stroke="#231815" stroke-width="1.3" />
<line x1="785.9" y1="380" x2="785.9" y2="428" stroke="#231815" stroke-width="1.3" />
<line x1="858.3" y1="380" x2="858.3" y2="428" stroke="#231815" stroke-width="1.3" />
<rect x="763.4" y="382.2" width="22.5" height="14.5" stroke="#231815" stroke-width="1.3" fill="#fff" />
<path d="M767.5 396.7 L767.5 412 L770.5 415.8 L785.9 415.8" stroke="#231815" stroke-width="1.3" fill="none" />
<circle cx="773.6" cy="410" r="2.8" stroke="#231815" stroke-width="1.3" fill="none" />
<rect x="869.8" y="384.5" width="5" height="12.2" stroke="#231815" stroke-width="1.3" fill="#fff" />
<path d="M872.8 396.7 L872.8 413 L870 415.8 L858.3 415.8" stroke="#231815" stroke-width="1.3" fill="none" />
<circle cx="822" cy="315" r="81" stroke="#231815" stroke-width="1.3" fill="#fff" />
<path d="M869 384 A12.5 12.5 0 1 0 869 408 Z" stroke="#231815" stroke-width="1.3" fill="#fff"/>
<path d="M869 386.5 A10 10 0 1 0 869 405.5" stroke="#231815" stroke-width="1.3" fill="none"/>
<circle cx="862.1" cy="396" r="2.8" stroke="#231815" stroke-width="1.3" fill="none" />
<circle cx="821" cy="316.3" r="68.5" stroke="#231815" stroke-width="1.3" fill="#fff" />
<path d="M762.5 280.8 L786.3 280.8 L786.3 256.7" stroke="#231815" stroke-width="1.3" fill="none" />
<path d="M852.5 256.7 L852.5 280.8 L878.3 280.8" stroke="#231815" stroke-width="1.3" fill="none" />
<line x1="754.3" y1="300.7" x2="887.7" y2="300.7" stroke="#231815" stroke-width="2.6" />
<line x1="758.5" y1="344.3" x2="883.5" y2="344.3" stroke="#231815" stroke-width="2.6" />
<line x1="780.7" y1="300.7" x2="780.7" y2="344.3" stroke="#231815" stroke-width="2" />
<line x1="800.9" y1="300.7" x2="800.9" y2="344.3" stroke="#231815" stroke-width="2" />
<line x1="820.9" y1="300.7" x2="820.9" y2="344.3" stroke="#231815" stroke-width="2" />
<line x1="840" y1="300.7" x2="840" y2="344.3" stroke="#231815" stroke-width="2" />
<line x1="859.8" y1="300.7" x2="859.8" y2="344.3" stroke="#231815" stroke-width="2" />
<circle cx="790.9" cy="322" r="9.2" stroke="#231815" stroke-width="2.2" fill="none" />
<path d="M781.7 322 H800.1 M790.9 312.8 V331.2" stroke="#231815" stroke-width="1.6"/>
<circle cx="810.7" cy="322" r="9.2" stroke="#231815" stroke-width="2.2" fill="none" />
<path d="M801.5 322 H819.9 M810.7 312.8 V331.2" stroke="#231815" stroke-width="1.6"/>
<circle cx="830.6" cy="322" r="9.2" stroke="#231815" stroke-width="2.2" fill="none" />
<path d="M821.4 322 H839.8 M830.6 312.8 V331.2" stroke="#231815" stroke-width="1.6"/>
<circle cx="850.6" cy="322" r="9.2" stroke="#231815" stroke-width="2.2" fill="none" />
<path d="M841.4 322 H859.8 M850.6 312.8 V331.2" stroke="#231815" stroke-width="1.6"/>
<circle cx="767.2" cy="322" r="9.3" stroke="#231815" stroke-width="2.4" fill="none" />
<circle cx="873.7" cy="322" r="9.3" stroke="#231815" stroke-width="2.4" fill="none" />
<line x1="785.6" y1="353" x2="795.6" y2="353" stroke="#231815" stroke-width="1.4" />
<line x1="790.6" y1="348" x2="790.6" y2="358.2" stroke="#231815" stroke-width="1.4" />
<line x1="805.5" y1="353" x2="815.5" y2="353" stroke="#231815" stroke-width="1.4" />
<line x1="825" y1="353" x2="835" y2="353" stroke="#231815" stroke-width="1.4" />
<line x1="830" y1="348" x2="830" y2="358.2" stroke="#231815" stroke-width="1.4" />
<line x1="846.6" y1="353" x2="856.6" y2="353" stroke="#231815" stroke-width="1.4" />
<text x="791.3" y="370.6" font-size="13.8" fill="#231815" font-weight="normal" text-anchor="middle" font-family="Liberation Sans" textLength="7" lengthAdjust="spacingAndGlyphs" >A</text>
<text x="811.2" y="370.6" font-size="13.8" fill="#231815" font-weight="normal" text-anchor="middle" font-family="Liberation Sans" textLength="7" lengthAdjust="spacingAndGlyphs" stroke="#231815" stroke-width="0.5">B</text>
<path d="M828.8 362.5 L828.8 370.1 L838 370.1" stroke="#231815" stroke-width="1.1" fill="none" />
<path d="M845.5 370.1 L854.6 370.1 L854.6 362.5" stroke="#231815" stroke-width="1.1" fill="none" />
<path d="M826.9 364.5 L828.8 360.5 L830.7 364.5 Z M852.7 364.5 L854.6 360.5 L856.5 364.5 Z" fill="#231815"/>
<text x="841.8" y="372.4" font-size="13.8" fill="#231815" font-weight="normal" text-anchor="middle" font-family="Liberation Sans" textLength="7" lengthAdjust="spacingAndGlyphs" >A</text>
<rect x="772.1" y="428" width="98.4" height="29.4" stroke="#231815" stroke-width="1.3" fill="#fff" />
<rect x="780.2" y="457.4" width="80.4" height="6.9" stroke="#231815" stroke-width="1.3" fill="#fff" />
<rect x="796.5" y="464.3" width="49.9" height="4.9" stroke="#231815" stroke-width="1.3" fill="#fff" />
<rect x="790.4" y="469.2" width="60" height="26.4" stroke="#231815" stroke-width="1.3" fill="#fff" />
<line x1="820.5" y1="469.2" x2="820.5" y2="495.6" stroke="#231815" stroke-width="1.3" />
<rect x="797.3" y="495.6" width="47" height="38.4" stroke="#231815" stroke-width="1.3" fill="#fff" />
<rect x="816.4" y="534" width="6.1" height="4.6" stroke="#231815" stroke-width="1.3" fill="#fff" />
<text x="862.5" y="571" font-size="18.2" fill="#231815" font-weight="normal" text-anchor="start" font-family="Liberation Sans" textLength="57" lengthAdjust="spacingAndGlyphs" >三线制</text>
<text x="930.5" y="571" font-size="17.5" fill="#231815" font-weight="normal" text-anchor="start" font-family="Liberation Sans" textLength="47.5" lengthAdjust="spacingAndGlyphs" >PT100</text>
<line x1="940.5" y1="733.2" x2="940.5" y2="960" stroke="#231815" stroke-width="1.3" />
<line x1="940.5" y1="965.8" x2="940.5" y2="1060" stroke="#231815" stroke-width="1.3" />
<line x1="968.2" y1="733.2" x2="968.2" y2="960" stroke="#231815" stroke-width="1.3" />
<line x1="968.2" y1="965.8" x2="968.2" y2="1060" stroke="#231815" stroke-width="1.3" />
<line x1="945.8" y1="687.4" x2="945.8" y2="959" stroke="#231815" stroke-width="1.3" />
<line x1="945.8" y1="966.8" x2="945.8" y2="1058.7" stroke="#231815" stroke-width="1.3" />
<line x1="951.6" y1="687.4" x2="951.6" y2="959" stroke="#231815" stroke-width="1.3" />
<line x1="951.6" y1="966.8" x2="951.6" y2="1058.7" stroke="#231815" stroke-width="1.3" />
<line x1="959.4" y1="684" x2="959.4" y2="959" stroke="#231815" stroke-width="1.3" />
<line x1="959.4" y1="966.8" x2="959.4" y2="1034" stroke="#231815" stroke-width="1.3" />
<path d="M940.5 960 C944 956, 950 957, 953 960 S962 962, 968.2 958" stroke="#231815" stroke-width="1.3" fill="none"/>
<path d="M940.5 968 C944 964, 950 965, 953 968 S962 970, 968.2 966" stroke="#231815" stroke-width="1.3" fill="none"/>
<path d="M940.5 1060 A13.85 13.85 0 0 0 968.2 1060" stroke="#231815" stroke-width="1.3" fill="none"/>
<path d="M945.8 1058.7 H959.4 V1051.5 L956 1049 L962 1046 L956 1043 L962 1040 L956 1037 L959.4 1034" stroke="#231815" stroke-width="1.1" fill="none"/>
<rect x="931" y="706.4" width="49.6" height="26.8" stroke="#231815" stroke-width="1.3" fill="#fff" />
<line x1="935.4" y1="706.4" x2="935.4" y2="733.2" stroke="#231815" stroke-width="1.3" />
<line x1="966.5" y1="706.4" x2="966.5" y2="733.2" stroke="#231815" stroke-width="1.3" />
<rect x="969.6" y="710.4" width="11" height="18.6" stroke="#231815" stroke-width="1.3" fill="none" />
<circle cx="973.6" cy="719.8" r="2.3" stroke="#231815" stroke-width="1.6" fill="none" />
<line x1="945.8" y1="706.4" x2="945.8" y2="733.2" stroke="#231815" stroke-width="1.3" />
<line x1="951.6" y1="706.4" x2="951.6" y2="733.2" stroke="#231815" stroke-width="1.3" />
<line x1="959.4" y1="706.4" x2="959.4" y2="733.2" stroke="#231815" stroke-width="1.3" />
<path d="M912.5 687.4 L931 706.4" stroke="#231815" stroke-width="1.3" fill="none" />
<path d="M998.6 687.4 L980.6 706.4" stroke="#231815" stroke-width="1.3" fill="none" />
<path d="M927 687.4 L935.4 706.4" stroke="#231815" stroke-width="1.3" fill="none" />
<path d="M974.8 687.4 L966.5 706.4" stroke="#231815" stroke-width="1.3" fill="none" />
<line x1="945.8" y1="687.4" x2="945.8" y2="706.4" stroke="#231815" stroke-width="1.3" />
<line x1="951.6" y1="687.4" x2="951.6" y2="706.4" stroke="#231815" stroke-width="1.3" />
<line x1="959.4" y1="687.4" x2="959.4" y2="706.4" stroke="#231815" stroke-width="1.3" />
<path d="M912.6 614 L912.6 629.4" stroke="#231815" stroke-width="1.3" fill="none" />
<path d="M912.6 669.4 L912.6 687.4 L998.6 687.4 L998.6 668" stroke="#231815" stroke-width="1.3" fill="none" />
<path d="M869.3 629.4 H912.6 Q922 649.4 912.6 669.4 H869.3 Z" stroke="#231815" stroke-width="1.3" fill="#fff"/>
<rect x="876.3" y="623.3" width="36.3" height="6.1" stroke="#231815" stroke-width="1.3" fill="#fff" />
<rect x="866.7" y="637.2" width="2.6" height="23" stroke="#231815" stroke-width="1.3" fill="#fff" />
<path d="M857.5 629.8 H864.4 Q867.6 634.6 864.4 639.4 Q868 649.4 864.4 659.4 Q867.6 664.4 864.4 669.4 H857.5 Q854.3 664.4 857.5 659.4 Q853.9 649.4 857.5 639.4 Q854.3 634.6 857.5 629.8 Z" stroke="#231815" stroke-width="1.3" fill="#fff"/>
<line x1="856.5" y1="639.4" x2="865.4" y2="639.4" stroke="#231815" stroke-width="1.3" />
<line x1="856.5" y1="659.4" x2="865.4" y2="659.4" stroke="#231815" stroke-width="1.3" />
<path d="M877.2 623 V619 Q879 615 885 615 Q891 615 893 619 V623 Z" stroke="#231815" stroke-width="1.3" fill="#fff"/>
<path d="M882.2 616.5 L884.8 620.9 L888.1 615.7" stroke="#231815" stroke-width="1.1" fill="none"/>
<line x1="876" y1="623.3" x2="894" y2="623.3" stroke="#231815" stroke-width="2" />
<path d="M858 613.1 C846 612, 842 602, 847 595.7 C851 590, 858 590, 862 590 H942" stroke="#231815" stroke-width="1.5" fill="none" stroke-dasharray="1.4 4.3"/>
<circle cx="865.6" cy="613.1" r="4.8" stroke="#231815" stroke-width="1.2" fill="#fff" />
<circle cx="865.6" cy="613.1" r="2.6" stroke="#231815" stroke-width="1" fill="none" />
<circle cx="865.6" cy="613.1" r="1" stroke="none" stroke-width="0" fill="#231815" />
<path d="M866.5 614.3 L876.5 622.5 M865.5 615.8 L875.5 624" stroke="#231815" stroke-width="0.9" fill="none"/>
<circle cx="946.7" cy="590" r="4.8" stroke="#231815" stroke-width="1.2" fill="#fff" />
<circle cx="946.7" cy="590" r="2.6" stroke="#231815" stroke-width="1" fill="none" />
<circle cx="946.7" cy="590" r="1" stroke="none" stroke-width="0" fill="#231815" />
<path d="M947.6 591.2 C952 595, 955 599, 960 602 M946.6 592.7 C950.5 596.5, 953.5 600.5, 958.5 603.5" stroke="#231815" stroke-width="0.9" fill="none"/>
<g transform="translate(900.4 605.3) rotate(34.06)">
<path d="M9.8 -16 C11 -22.5, 13.5 -26.5, 19 -26.8 L112.8 -27 C119 -26.5, 123 -22, 123.5 -16 Z" stroke="#231815" stroke-width="1.3" fill="#fff"/>
<line x1="21" y1="-24.2" x2="114" y2="-24.4" stroke="#231815" stroke-width="1.3" />
<rect x="70.5" y="-35" width="16.9" height="8.2" stroke="#231815" stroke-width="1.3" fill="#fff" />
<path d="M44 -26.8 L44 -31.5 L62.5 -31.5 L62.5 -26.8 M46.5 -31.5 Q47 -43.5 54.5 -43.5 Q62 -43.5 61.5 -31.5" stroke="#231815" stroke-width="1.3" fill="#fff"/>
<path d="M51 -39.5 L54.5 -34.5 L58 -39.5" stroke="#231815" stroke-width="0.9" fill="none"/>
<line x1="12" y1="-18.4" x2="121" y2="-18.4" stroke="#231815" stroke-width="1.3" />
<rect x="0" y="-15.6" width="133" height="15.6" stroke="#231815" stroke-width="1.3" fill="#fff" />
<line x1="4" y1="-12.3" x2="128" y2="-12.3" stroke="#231815" stroke-width="1.3" />
<line x1="4" y1="-15.6" x2="4" y2="0" stroke="#231815" stroke-width="1.3" />
<line x1="13" y1="-12.3" x2="13" y2="0" stroke="#231815" stroke-width="1.3" />
<line x1="27" y1="-12.3" x2="27" y2="0" stroke="#231815" stroke-width="1.3" />
<line x1="41" y1="-12.3" x2="41" y2="0" stroke="#231815" stroke-width="1.3" />
<line x1="57" y1="-12.3" x2="57" y2="0" stroke="#231815" stroke-width="1.3" />
<line x1="75" y1="-12.3" x2="75" y2="0" stroke="#231815" stroke-width="1.3" />
<line x1="92" y1="-12.3" x2="92" y2="0" stroke="#231815" stroke-width="1.3" />
<line x1="107" y1="-12.3" x2="107" y2="0" stroke="#231815" stroke-width="1.3" />
<line x1="119" y1="-12.3" x2="119" y2="0" stroke="#231815" stroke-width="1.3" />
<line x1="127.7" y1="-15.6" x2="127.7" y2="0" stroke="#231815" stroke-width="1.3" />
<path d="M13 -12.3 Q13 -15.6 17 -15.6 L22 -15.6 Q27 -15.6 27 -11.5 Z" stroke="#231815" stroke-width="1.3" fill="#fff"/>
<path d="M41 -12.3 Q41 -15.6 45 -15.6 L52 -15.6 Q57 -15.6 57 -11.5 Z" stroke="#231815" stroke-width="1.3" fill="#fff"/>
<path d="M75 -12.3 Q75 -15.6 79 -15.6 L87 -15.6 Q92 -15.6 92 -11.5 Z" stroke="#231815" stroke-width="1.3" fill="#fff"/>
<path d="M107 -12.3 Q107 -15.6 111 -15.6 L114 -15.6 Q119 -15.6 119 -11.5 Z" stroke="#231815" stroke-width="1.3" fill="#fff"/>
</g>
<path d="M934.2 674.2 L945.8 684 L945.8 688" stroke="#231815" stroke-width="1.1" fill="none" />
<path d="M967.5 674.2 L959.4 684 L959.4 688" stroke="#231815" stroke-width="1.1" fill="none" />
<line x1="951.6" y1="674.2" x2="951.6" y2="688" stroke="#231815" stroke-width="1.1" />
<text x="680.3" y="726.8" font-size="19.5" fill="#231815" font-weight="normal" text-anchor="start" font-family="Liberation Sans" textLength="97.5" lengthAdjust="spacingAndGlyphs" >涡街流量计</text>
<path d="M657.3 934 V1016.3 H811.2 V890" stroke="#231815" stroke-width="1.3" fill="#fff"/>
<line x1="662.6" y1="934" x2="662.6" y2="1016.3" stroke="#231815" stroke-width="1.3" />
<line x1="674.8" y1="934" x2="674.8" y2="1016.3" stroke="#231815" stroke-width="1.3" />
<line x1="706.9" y1="890" x2="706.9" y2="1016.3" stroke="#231815" stroke-width="1.3" />
<line x1="760.6" y1="890" x2="760.6" y2="1016.3" stroke="#231815" stroke-width="1.3" />
<line x1="793.3" y1="890" x2="793.3" y2="1016.3" stroke="#231815" stroke-width="1.3" />
<line x1="806.1" y1="890" x2="806.1" y2="1016.3" stroke="#231815" stroke-width="1.3" />
<path d="M657.3 990.5 H650 Q648 990.5 648 993 V1016.3 H657.3" stroke="#231815" stroke-width="1.3" fill="#fff"/>
<path d="M811 880 L824.4 886.7 V913.3 Q824.4 920 817 920 H810" stroke="#231815" stroke-width="1.3" fill="#fff"/>
<circle cx="816.1" cy="912.2" r="3.4" stroke="#231815" stroke-width="1.3" fill="none" />
<rect x="634.4" y="740.6" width="197.8" height="67" stroke="#231815" stroke-width="2" fill="#fff" />
<line x1="634.4" y1="738" x2="832.2" y2="738" stroke="#231815" stroke-width="1" />
<path d="M637.2 738 Q644.5 732.5 651.7 738 M817.8 738 Q824.7 732.5 831.7 738" stroke="#231815" stroke-width="1.3" fill="#fff"/>
<line x1="832.2" y1="740.6" x2="832.2" y2="885" stroke="#231815" stroke-width="1.3" />
<rect x="627.4" y="744.4" width="6" height="61.6" stroke="#231815" stroke-width="1.3" fill="#fff" />
<rect x="613.3" y="743" width="14.1" height="64.4" stroke="#231815" stroke-width="1.6" fill="#fff" rx="4"/>
<line x1="613.3" y1="757.8" x2="627.4" y2="757.8" stroke="#231815" stroke-width="1.3" />
<line x1="613.3" y1="788.9" x2="627.4" y2="788.9" stroke="#231815" stroke-width="1.3" />
<rect x="835.3" y="743.9" width="5.3" height="62.2" stroke="#231815" stroke-width="1.3" fill="#fff" />
<rect x="840.6" y="742.8" width="13.8" height="64.4" stroke="#231815" stroke-width="1.6" fill="#fff" rx="4"/>
<line x1="840.6" y1="757.8" x2="854.4" y2="757.8" stroke="#231815" stroke-width="1.3" />
<line x1="840.6" y1="760.6" x2="854.4" y2="760.6" stroke="#231815" stroke-width="1.3" />
<line x1="840.6" y1="788.3" x2="854.4" y2="788.3" stroke="#231815" stroke-width="1.3" />
<rect x="631" y="800" width="5.7" height="78" stroke="#231815" stroke-width="1.3" fill="#fff" />
<path d="M631 808 A6 7 0 0 0 631 822 M631 864 A6 7 0 0 0 631 878" stroke="#231815" stroke-width="1.3" fill="#fff"/>
<path d="M653 908.9 L641 908.9 Q634.4 910 634.4 920.7 Q634.4 931.5 641 932.5 H653" stroke="#231815" stroke-width="1.3" fill="#fff"/>
<line x1="642" y1="908.9" x2="642" y2="932.5" stroke="#231815" stroke-width="1.3" />
<line x1="645.8" y1="908.9" x2="645.8" y2="932.5" stroke="#231815" stroke-width="1.3" />
<circle cx="735" cy="841.5" r="100" stroke="#231815" stroke-width="1.3" fill="#fff" />
<circle cx="735" cy="841.5" r="98.5" stroke="#231815" stroke-width="1.2" fill="none" />
<path d="M655 904 Q651 911 651.5 920.3 A11.2 11.2 0 0 0 668.5 934 L696 934 L720 940.4" stroke="#231815" stroke-width="1.3" fill="#fff"/>
<circle cx="662.6" cy="920.3" r="9.3" stroke="#231815" stroke-width="3" fill="#fff" />
<circle cx="662.6" cy="920.3" r="5" stroke="#9a9a9a" stroke-width="1" fill="none" />
<circle cx="735" cy="841.5" r="93.3" stroke="#231815" stroke-width="1.3" fill="none" />
<circle cx="735" cy="841.5" r="88.7" stroke="#231815" stroke-width="1.3" fill="none" />
<circle cx="735" cy="841.5" r="86.7" stroke="#231815" stroke-width="1.3" fill="none" />
<circle cx="735" cy="841.5" r="85" stroke="#231815" stroke-width="1.3" fill="none" />
<circle cx="735" cy="841.5" r="81.7" stroke="#231815" stroke-width="1.3" fill="#fff" />
<path d="M663.5 805.6 H812" stroke="#231815" stroke-width="1.3"/>
<path d="M664.4 793.9 H719 Q724 794.5 723.9 797 Q722 800 718 799.4 H664.4" stroke="#231815" stroke-width="1.3" fill="none"/>
<path d="M685 802.8 H722" stroke="#231815" stroke-width="1.3"/>
<path d="M744.4 757 V793.9 H803.3 V800 H747.8 M761.7 760 V775 Q761 782 748 782.5" stroke="#231815" stroke-width="1.3" fill="none"/>
<path d="M668 812 Q668 806 674 805.6 M703.4 808 V857.2 M764.4 808 V856.5 H809.8" stroke="#231815" stroke-width="1.3" fill="none"/>
<path d="M699.5 805.6 Q703.4 806 703.4 810 M764.4 810 Q764.4 806 768.5 805.6" stroke="#231815" stroke-width="1.3" fill="none"/>
<rect x="703.9" y="857.2" width="60.5" height="31.7" stroke="#231815" stroke-width="1.3" fill="#fff" />
<line x1="703.9" y1="860.6" x2="764.4" y2="860.6" stroke="#231815" stroke-width="1.3" />
<rect x="704.8" y="885" width="58.7" height="3.5" stroke="#231815" stroke-width="0" fill="#8a8a8a" />
<line x1="723.3" y1="857.2" x2="723.3" y2="888.9" stroke="#231815" stroke-width="1.3" />
<line x1="725.8" y1="857.2" x2="725.8" y2="888.9" stroke="#231815" stroke-width="1.3" />
<line x1="740.8" y1="857.2" x2="740.8" y2="888.9" stroke="#231815" stroke-width="1.3" />
<line x1="743.3" y1="857.2" x2="743.3" y2="888.9" stroke="#231815" stroke-width="1.3" />
<line x1="761.7" y1="857.2" x2="761.7" y2="888.9" stroke="#231815" stroke-width="1.3" />
<circle cx="715" cy="873.5" r="6.5" stroke="#231815" stroke-width="1.2" fill="#fff" />
<path d="M711.7 873.5 H718.3 M715 870.2 V876.8" stroke="#231815" stroke-width="2"/>
<circle cx="733.4" cy="873.5" r="6.5" stroke="#231815" stroke-width="1.2" fill="#fff" />
<path d="M730.1 873.5 H736.7 M733.4 870.2 V876.8" stroke="#231815" stroke-width="2"/>
<circle cx="752" cy="873.5" r="6.5" stroke="#231815" stroke-width="1.2" fill="#fff" />
<path d="M748.7 873.5 H755.3 M752 870.2 V876.8" stroke="#231815" stroke-width="2"/>
<path d="M710 897.2 H720.5 M715.3 892 V902.4" stroke="#231815" stroke-width="2"/>
<path d="M725.5 898.5 H730 V892.5 H736 V898.5 H741.5" stroke="#231815" stroke-width="1.8" fill="none"/>
<path d="M748.9 896.1 H758.9" stroke="#231815" stroke-width="2"/>
<path d="M725 918 A9.5 9.5 0 0 1 744 918" stroke="#231815" stroke-width="1.3" fill="none"/>
<circle cx="734.4" cy="913.9" r="6.5" stroke="#231815" stroke-width="1.2" fill="#fff" />
<path d="M731 913.9 H737.8 M734.4 910.5 V917.3" stroke="#231815" stroke-width="2"/>
<path d="M156 548 H240.2 V272.3 H791.3 V315.6" stroke="#e4007f" stroke-width="2.7" fill="none" stroke-linejoin="miter" stroke-linecap="butt"/>
<path d="M156 584.7 H259.4 V294.5 H675.4 V444.3 H495" stroke="#00a0e9" stroke-width="2.7" fill="none" stroke-linejoin="miter" stroke-linecap="butt"/>
<path d="M495.6 341.7 H620.3 V253.8 H809.7 V315.6" stroke="#009944" stroke-width="2.7" fill="none" stroke-linejoin="miter" stroke-linecap="butt"/>
<path d="M156 618.4 H239.6 V794 H714.8 V868" stroke="#e4007f" stroke-width="2.7" fill="none" stroke-linejoin="miter" stroke-linecap="butt"/>
<path d="M154 653.6 H217 V759 H752.2 V868" stroke="#00a0e9" stroke-width="2.7" fill="none" stroke-linejoin="miter" stroke-linecap="butt"/>
<path d="M448.3 550.1 H329.7 V777.2 H733.5 V868" stroke="#009944" stroke-width="2.7" fill="none" stroke-linejoin="miter" stroke-linecap="butt"/>
<path d="M448.3 584.6 H355 V759" stroke="#00a0e9" stroke-width="2.7" fill="none" stroke-linejoin="miter" stroke-linecap="butt"/>
<circle cx="355" cy="759" r="4.2" stroke="none" stroke-width="0" fill="#00a0e9" />
<path d="M494.5 514.3 H626.1 V642.4 H948.3 L967.5 674.2" stroke="#920783" stroke-width="2.7" fill="none" stroke-linejoin="miter" stroke-linecap="butt"/>
<path d="M495.5 550 H608 V650 H935 L950 674.2" stroke="#1d2088" stroke-width="2.7" fill="none" stroke-linejoin="miter" stroke-linecap="butt"/>
<path d="M495.5 583.3 H590 V657.8 H925.8 L934.2 674.2" stroke="#1d2088" stroke-width="2.7" fill="none" stroke-linejoin="miter" stroke-linecap="butt"/>
<circle cx="934.2" cy="674.4" r="3.3" stroke="none" stroke-width="0" fill="#231815" />
<circle cx="950.8" cy="674.4" r="3.3" stroke="none" stroke-width="0" fill="#231815" />
<circle cx="967.5" cy="674.4" r="3.3" stroke="none" stroke-width="0" fill="#231815" />
<path d="M69.4 688.3 H144.4" stroke="#e60012" stroke-width="2.7" fill="none" stroke-linejoin="miter" stroke-linecap="butt"/>
<path d="M69.4 723.6 H142.8" stroke="#231815" stroke-width="2.7" fill="none" stroke-linejoin="miter" stroke-linecap="butt"/>
<path d="M177.3 540.2 H188.7 M183 534.5 V545.9" stroke="#231815" stroke-width="1.5"/>
<path d="M177.3 591.1 H188.7" stroke="#231815" stroke-width="1.5"/>
<text x="177.8" y="571.8" font-size="19" fill="#231815" font-weight="normal" text-anchor="start" font-family="Liberation Sans" textLength="48" lengthAdjust="spacingAndGlyphs" >DC24V</text>
<path d="M177.3 609.4 H188.7 M183 603.7 V615.1" stroke="#231815" stroke-width="1.5"/>
<path d="M177.3 661.5 H188.7" stroke="#231815" stroke-width="1.5"/>
<text x="177.8" y="642.6" font-size="19" fill="#231815" font-weight="normal" text-anchor="start" font-family="Liberation Sans" textLength="48" lengthAdjust="spacingAndGlyphs" >DC24V</text>
<text x="548.1" y="333.7" font-size="20" fill="#231815" font-weight="normal" text-anchor="start" font-family="Liberation Mono" textLength="49" lengthAdjust="spacingAndGlyphs" >mAin+</text>
<text x="548.1" y="440.3" font-size="20" fill="#231815" font-weight="normal" text-anchor="start" font-family="Liberation Mono" textLength="49" lengthAdjust="spacingAndGlyphs" >mAin−</text>
<text x="551.5" y="511.6" font-size="18.5" fill="#231815" font-weight="normal" text-anchor="start" font-family="Liberation Sans" textLength="10" lengthAdjust="spacingAndGlyphs" >A</text>
<text x="552.8" y="547" font-size="17.5" fill="#231815" font-weight="normal" text-anchor="start" font-family="Liberation Sans" textLength="9.3" lengthAdjust="spacingAndGlyphs" >B</text>
<text x="553.6" y="580.3" font-size="17.5" fill="#231815" font-weight="normal" text-anchor="start" font-family="Liberation Sans" textLength="9.3" lengthAdjust="spacingAndGlyphs" >B</text>
<text x="367.3" y="545.7" font-size="19" fill="#231815" font-weight="normal" text-anchor="start" font-family="Liberation Mono" textLength="34.4" lengthAdjust="spacingAndGlyphs" >Fin+</text>
<text x="367.3" y="580.7" font-size="19" fill="#231815" font-weight="normal" text-anchor="start" font-family="Liberation Mono" textLength="34.4" lengthAdjust="spacingAndGlyphs" >Fin−</text>
<text x="55" y="694.4" font-size="21.5" fill="#e60012" font-weight="normal" text-anchor="start" font-family="Liberation Sans" textLength="9.7" lengthAdjust="spacingAndGlyphs" stroke="#e60012" stroke-width="0.5">L</text>
<text x="53.1" y="733.3" font-size="21.5" fill="#231815" font-weight="normal" text-anchor="start" font-family="Liberation Sans" textLength="10" lengthAdjust="spacingAndGlyphs" stroke="#231815" stroke-width="0.6">N</text>
<path d="M82 822.5 V810.8 H93.3" stroke="#7d7d7d" stroke-width="1.8" fill="none"/>
<path d="M118.3 810.8 H559" stroke="#7d7d7d" stroke-width="1.8" stroke-dasharray="24.5 24.5"/>
<path d="M559.2 810.8 H570.8 V822.5" stroke="#7d7d7d" stroke-width="1.8" fill="none"/>
<path d="M82 846.7 V1062" stroke="#7d7d7d" stroke-width="1.8" stroke-dasharray="22.5 22.8"/>
<path d="M570.8 846.7 V1062" stroke="#7d7d7d" stroke-width="1.8" stroke-dasharray="22.5 22.8"/>
<path d="M82 1075 V1085.8 H93.5" stroke="#7d7d7d" stroke-width="1.8" fill="none"/>
<path d="M118.3 1085.8 H559" stroke="#7d7d7d" stroke-width="1.8" stroke-dasharray="24.5 24.5"/>
<path d="M559 1085.8 H570.8 V1075" stroke="#7d7d7d" stroke-width="1.8" fill="none"/>
<text x="111.7" y="842.2" font-size="19" fill="#231815" font-weight="normal" text-anchor="start" font-family="Liberation Sans" textLength="75.8" lengthAdjust="spacingAndGlyphs" >流量输入</text>
<line x1="110" y1="853.7" x2="171.2" y2="853.7" stroke="#231815" stroke-width="1.8" />
<line x1="110" y1="883.2" x2="171.2" y2="883.2" stroke="#231815" stroke-width="1.8" />
<line x1="133.3" y1="853.7" x2="133.3" y2="883.2" stroke="#231815" stroke-width="1.6" />
<line x1="140.8" y1="853.7" x2="140.8" y2="883.2" stroke="#231815" stroke-width="1.6" />
<line x1="171.2" y1="853.7" x2="171.2" y2="883.2" stroke="#231815" stroke-width="1.8" />
<circle cx="156" cy="868.45" r="14.2" stroke="#231815" stroke-width="1.5" fill="#fff" />
<path d="M141.8 868.45 H170.2 M156 854.25 V882.65" stroke="#231815" stroke-width="5.6"/>
<path d="M143 868.45 H169 M156 855.45 V881.45" stroke="#fff" stroke-width="2.8"/>
<text x="120.15" y="875.2" font-size="18" fill="#231815" font-weight="bold" text-anchor="middle" font-family="Liberation Sans" textLength="17" lengthAdjust="spacingAndGlyphs" stroke="#231815" stroke-width="0.45">31</text>
<line x1="110" y1="888.4" x2="171.2" y2="888.4" stroke="#231815" stroke-width="1.8" />
<line x1="110" y1="917.9" x2="171.2" y2="917.9" stroke="#231815" stroke-width="1.8" />
<line x1="133.3" y1="888.4" x2="133.3" y2="917.9" stroke="#231815" stroke-width="1.6" />
<line x1="140.8" y1="888.4" x2="140.8" y2="917.9" stroke="#231815" stroke-width="1.6" />
<line x1="171.2" y1="888.4" x2="171.2" y2="917.9" stroke="#231815" stroke-width="1.8" />
<circle cx="156" cy="903.15" r="14.2" stroke="#231815" stroke-width="1.5" fill="#fff" />
<path d="M141.8 903.15 H170.2 M156 888.95 V917.35" stroke="#231815" stroke-width="5.6"/>
<path d="M143 903.15 H169 M156 890.15 V916.15" stroke="#fff" stroke-width="2.8"/>
<text x="120.15" y="909.9" font-size="18" fill="#231815" font-weight="bold" text-anchor="middle" font-family="Liberation Sans" textLength="17" lengthAdjust="spacingAndGlyphs" stroke="#231815" stroke-width="0.45">32</text>
<line x1="171.2" y1="868.3" x2="201.8" y2="868.3" stroke="#231815" stroke-width="1.7" />
<circle cx="205" cy="868.3" r="3.2" stroke="#231815" stroke-width="1.8" fill="#fff" />
<line x1="171.2" y1="901.5" x2="201.8" y2="901.5" stroke="#231815" stroke-width="1.7" />
<circle cx="205" cy="901.5" r="3.2" stroke="#231815" stroke-width="1.8" fill="#fff" />
<path d="M179.7 860.5 H189.3 M184.5 855.7 V865.3" stroke="#231815" stroke-width="1.8"/>
<path d="M180.2 914.5 H189.8" stroke="#231815" stroke-width="1.8"/>
<text x="183.3" y="889.2" font-size="18" fill="#231815" font-weight="normal" text-anchor="start" font-family="Liberation Mono" textLength="28" lengthAdjust="spacingAndGlyphs" >Fin</text>
<text x="261.7" y="841.7" font-size="19" fill="#231815" font-weight="normal" text-anchor="start" font-family="Liberation Sans" textLength="115" lengthAdjust="spacingAndGlyphs" >压力补偿输入</text>
<line x1="260" y1="853" x2="321.2" y2="853" stroke="#231815" stroke-width="1.8" />
<line x1="260" y1="882.5" x2="321.2" y2="882.5" stroke="#231815" stroke-width="1.8" />
<line x1="282.5" y1="853" x2="282.5" y2="882.5" stroke="#231815" stroke-width="1.6" />
<line x1="290.5" y1="853" x2="290.5" y2="882.5" stroke="#231815" stroke-width="1.6" />
<line x1="321.2" y1="853" x2="321.2" y2="882.5" stroke="#231815" stroke-width="1.8" />
<circle cx="305.85" cy="867.75" r="14.2" stroke="#231815" stroke-width="1.5" fill="#fff" />
<path d="M291.65 867.75 H320.05 M305.85 853.55 V881.95" stroke="#231815" stroke-width="5.6"/>
<path d="M292.85 867.75 H318.85 M305.85 854.75 V880.75" stroke="#fff" stroke-width="2.8"/>
<text x="269.75" y="874.5" font-size="18" fill="#231815" font-weight="bold" text-anchor="middle" font-family="Liberation Sans" textLength="17" lengthAdjust="spacingAndGlyphs" stroke="#231815" stroke-width="0.45">13</text>
<line x1="260" y1="887.6" x2="321.2" y2="887.6" stroke="#231815" stroke-width="1.8" />
<line x1="260" y1="917.1" x2="321.2" y2="917.1" stroke="#231815" stroke-width="1.8" />
<line x1="282.5" y1="887.6" x2="282.5" y2="917.1" stroke="#231815" stroke-width="1.6" />
<line x1="290.5" y1="887.6" x2="290.5" y2="917.1" stroke="#231815" stroke-width="1.6" />
<line x1="321.2" y1="887.6" x2="321.2" y2="917.1" stroke="#231815" stroke-width="1.8" />
<circle cx="305.85" cy="902.35" r="14.2" stroke="#231815" stroke-width="1.5" fill="#fff" />
<path d="M291.65 902.35 H320.05 M305.85 888.15 V916.55" stroke="#231815" stroke-width="5.6"/>
<path d="M292.85 902.35 H318.85 M305.85 889.35 V915.35" stroke="#fff" stroke-width="2.8"/>
<text x="269.75" y="909.1" font-size="18" fill="#231815" font-weight="bold" text-anchor="middle" font-family="Liberation Sans" textLength="17" lengthAdjust="spacingAndGlyphs" stroke="#231815" stroke-width="0.45">16</text>
<line x1="321.2" y1="867.5" x2="352.6" y2="867.5" stroke="#231815" stroke-width="1.7" />
<circle cx="355.8" cy="867.5" r="3.2" stroke="#231815" stroke-width="1.8" fill="#fff" />
<line x1="321.2" y1="900.8" x2="352.6" y2="900.8" stroke="#231815" stroke-width="1.7" />
<circle cx="355.8" cy="900.8" r="3.2" stroke="#231815" stroke-width="1.8" fill="#fff" />
<path d="M328.1 859.5 H337.7 M332.9 854.7 V864.3" stroke="#231815" stroke-width="1.8"/>
<path d="M330.2 913.3 H339.8" stroke="#231815" stroke-width="1.8"/>
<text x="332.5" y="887.5" font-size="17.5" fill="#231815" font-weight="normal" text-anchor="start" font-family="Liberation Mono" textLength="38" lengthAdjust="spacingAndGlyphs" >mAin</text>
<text x="410.8" y="841.2" font-size="19" fill="#231815" font-weight="normal" text-anchor="start" font-family="Liberation Sans" textLength="115" lengthAdjust="spacingAndGlyphs" >温度补偿输入</text>
<line x1="409.2" y1="852.5" x2="470.3" y2="852.5" stroke="#231815" stroke-width="1.8" />
<line x1="409.2" y1="882" x2="470.3" y2="882" stroke="#231815" stroke-width="1.8" />
<line x1="432.5" y1="852.5" x2="432.5" y2="882" stroke="#231815" stroke-width="1.6" />
<line x1="440.5" y1="852.5" x2="440.5" y2="882" stroke="#231815" stroke-width="1.6" />
<line x1="470.3" y1="852.5" x2="470.3" y2="882" stroke="#231815" stroke-width="1.8" />
<circle cx="455.4" cy="867.25" r="14.2" stroke="#231815" stroke-width="1.5" fill="#fff" />
<path d="M441.2 867.25 H469.6 M455.4 853.05 V881.45" stroke="#231815" stroke-width="5.6"/>
<path d="M442.4 867.25 H468.4 M455.4 854.25 V880.25" stroke="#fff" stroke-width="2.8"/>
<text x="419.35" y="874" font-size="18" fill="#231815" font-weight="bold" text-anchor="middle" font-family="Liberation Sans" textLength="17" lengthAdjust="spacingAndGlyphs" stroke="#231815" stroke-width="0.45">18</text>
<line x1="409.2" y1="887.1" x2="470.3" y2="887.1" stroke="#231815" stroke-width="1.8" />
<line x1="409.2" y1="916.6" x2="470.3" y2="916.6" stroke="#231815" stroke-width="1.8" />
<line x1="432.5" y1="887.1" x2="432.5" y2="916.6" stroke="#231815" stroke-width="1.6" />
<line x1="440.5" y1="887.1" x2="440.5" y2="916.6" stroke="#231815" stroke-width="1.6" />
<line x1="470.3" y1="887.1" x2="470.3" y2="916.6" stroke="#231815" stroke-width="1.8" />
<circle cx="455.4" cy="901.85" r="14.2" stroke="#231815" stroke-width="1.5" fill="#fff" />
<path d="M441.2 901.85 H469.6 M455.4 887.65 V916.05" stroke="#231815" stroke-width="5.6"/>
<path d="M442.4 901.85 H468.4 M455.4 888.85 V914.85" stroke="#fff" stroke-width="2.8"/>
<text x="419.35" y="908.6" font-size="18" fill="#231815" font-weight="bold" text-anchor="middle" font-family="Liberation Sans" textLength="17" lengthAdjust="spacingAndGlyphs" stroke="#231815" stroke-width="0.45">19</text>
<line x1="409.2" y1="922.7" x2="470.3" y2="922.7" stroke="#231815" stroke-width="1.8" />
<line x1="409.2" y1="952.2" x2="470.3" y2="952.2" stroke="#231815" stroke-width="1.8" />
<line x1="432.5" y1="922.7" x2="432.5" y2="952.2" stroke="#231815" stroke-width="1.6" />
<line x1="440.5" y1="922.7" x2="440.5" y2="952.2" stroke="#231815" stroke-width="1.6" />
<line x1="470.3" y1="922.7" x2="470.3" y2="952.2" stroke="#231815" stroke-width="1.8" />
<circle cx="455.4" cy="937.45" r="14.2" stroke="#231815" stroke-width="1.5" fill="#fff" />
<path d="M441.2 937.45 H469.6 M455.4 923.25 V951.65" stroke="#231815" stroke-width="5.6"/>
<path d="M442.4 937.45 H468.4 M455.4 924.45 V950.45" stroke="#fff" stroke-width="2.8"/>
<text x="419.35" y="944.2" font-size="18" fill="#231815" font-weight="bold" text-anchor="middle" font-family="Liberation Sans" textLength="17" lengthAdjust="spacingAndGlyphs" stroke="#231815" stroke-width="0.45">20</text>
<path d="M470.3 866.7 H490 V872.5 M490 898 V937.5 H470.3 M470.3 901.3 H480.8 V919.2 H490" stroke="#231815" stroke-width="1.3" fill="none"/>
<rect x="485.8" y="872.5" width="7.9" height="25.5" stroke="#231815" stroke-width="1.5" fill="#fff" />
<text x="496.7" y="904.2" font-size="14" fill="#231815" font-weight="normal" text-anchor="start" font-family="Liberation Sans" textLength="25" lengthAdjust="spacingAndGlyphs" >RTD</text>
<text x="108.7" y="988.7" font-size="19" fill="#231815" font-weight="normal" text-anchor="start" font-family="Liberation Sans" textLength="74.6" lengthAdjust="spacingAndGlyphs" >馈电输出</text>
<line x1="108.7" y1="997.8" x2="170" y2="997.8" stroke="#231815" stroke-width="1.8" />
<line x1="108.7" y1="1027.3" x2="170" y2="1027.3" stroke="#231815" stroke-width="1.8" />
<line x1="132" y1="997.8" x2="132" y2="1027.3" stroke="#231815" stroke-width="1.6" />
<line x1="140" y1="997.8" x2="140" y2="1027.3" stroke="#231815" stroke-width="1.6" />
<line x1="170" y1="997.8" x2="170" y2="1027.3" stroke="#231815" stroke-width="1.8" />
<circle cx="155" cy="1012.55" r="14.2" stroke="#231815" stroke-width="1.5" fill="#fff" />
<path d="M140.8 1012.55 H169.2 M155 998.35 V1026.75" stroke="#231815" stroke-width="5.6"/>
<path d="M142 1012.55 H168 M155 999.55 V1025.55" stroke="#fff" stroke-width="2.8"/>
<text x="118.85" y="1019.3" font-size="18" fill="#231815" font-weight="bold" text-anchor="middle" font-family="Liberation Sans" stroke="#231815" stroke-width="0.45">7</text>
<line x1="108.7" y1="1033.7" x2="170" y2="1033.7" stroke="#231815" stroke-width="1.8" />
<line x1="108.7" y1="1063.2" x2="170" y2="1063.2" stroke="#231815" stroke-width="1.8" />
<line x1="132" y1="1033.7" x2="132" y2="1063.2" stroke="#231815" stroke-width="1.6" />
<line x1="140" y1="1033.7" x2="140" y2="1063.2" stroke="#231815" stroke-width="1.6" />
<line x1="170" y1="1033.7" x2="170" y2="1063.2" stroke="#231815" stroke-width="1.8" />
<circle cx="155" cy="1048.45" r="14.2" stroke="#231815" stroke-width="1.5" fill="#fff" />
<path d="M140.8 1048.45 H169.2 M155 1034.25 V1062.65" stroke="#231815" stroke-width="5.6"/>
<path d="M142 1048.45 H168 M155 1035.45 V1061.45" stroke="#fff" stroke-width="2.8"/>
<text x="118.85" y="1055.2" font-size="18" fill="#231815" font-weight="bold" text-anchor="middle" font-family="Liberation Sans" stroke="#231815" stroke-width="0.45">8</text>
<line x1="170" y1="1014.7" x2="198.5" y2="1014.7" stroke="#231815" stroke-width="1.7" />
<circle cx="201.7" cy="1014.7" r="3.2" stroke="#231815" stroke-width="1.8" fill="#fff" />
<line x1="170" y1="1047.5" x2="198.5" y2="1047.5" stroke="#231815" stroke-width="1.7" />
<circle cx="201.7" cy="1047.5" r="3.2" stroke="#231815" stroke-width="1.8" fill="#fff" />
<path d="M176.9 1006.7 H186.5 M181.7 1001.9 V1011.5" stroke="#231815" stroke-width="1.8"/>
<path d="M176.9 1055.8 H186.5" stroke="#231815" stroke-width="1.8"/>
<text x="179.2" y="1037.5" font-size="17" fill="#231815" font-weight="normal" text-anchor="start" font-family="Liberation Sans" textLength="47.5" lengthAdjust="spacingAndGlyphs" >DC24V</text>
<text x="256.7" y="988.7" font-size="19" fill="#231815" font-weight="normal" text-anchor="start" font-family="Liberation Sans" textLength="75" lengthAdjust="spacingAndGlyphs" >馈电输出</text>
<line x1="256.7" y1="997.5" x2="317.5" y2="997.5" stroke="#231815" stroke-width="1.8" />
<line x1="256.7" y1="1027" x2="317.5" y2="1027" stroke="#231815" stroke-width="1.8" />
<line x1="279.7" y1="997.5" x2="279.7" y2="1027" stroke="#231815" stroke-width="1.6" />
<line x1="288" y1="997.5" x2="288" y2="1027" stroke="#231815" stroke-width="1.6" />
<line x1="317.5" y1="997.5" x2="317.5" y2="1027" stroke="#231815" stroke-width="1.8" />
<circle cx="302.75" cy="1012.25" r="14.2" stroke="#231815" stroke-width="1.5" fill="#fff" />
<path d="M288.55 1012.25 H316.95 M302.75 998.05 V1026.45" stroke="#231815" stroke-width="5.6"/>
<path d="M289.75 1012.25 H315.75 M302.75 999.25 V1025.25" stroke="#fff" stroke-width="2.8"/>
<text x="266.7" y="1019" font-size="18" fill="#231815" font-weight="bold" text-anchor="middle" font-family="Liberation Sans" stroke="#231815" stroke-width="0.45">9</text>
<line x1="256.7" y1="1033" x2="317.5" y2="1033" stroke="#231815" stroke-width="1.8" />
<line x1="256.7" y1="1062.5" x2="317.5" y2="1062.5" stroke="#231815" stroke-width="1.8" />
<line x1="279.7" y1="1033" x2="279.7" y2="1062.5" stroke="#231815" stroke-width="1.6" />
<line x1="288" y1="1033" x2="288" y2="1062.5" stroke="#231815" stroke-width="1.6" />
<line x1="317.5" y1="1033" x2="317.5" y2="1062.5" stroke="#231815" stroke-width="1.8" />
<circle cx="302.75" cy="1047.75" r="14.2" stroke="#231815" stroke-width="1.5" fill="#fff" />
<path d="M288.55 1047.75 H316.95 M302.75 1033.55 V1061.95" stroke="#231815" stroke-width="5.6"/>
<path d="M289.75 1047.75 H315.75 M302.75 1034.75 V1060.75" stroke="#fff" stroke-width="2.8"/>
<text x="266.7" y="1054.5" font-size="18" fill="#231815" font-weight="bold" text-anchor="middle" font-family="Liberation Sans" textLength="18" lengthAdjust="spacingAndGlyphs" stroke="#231815" stroke-width="0.45">10</text>
<line x1="317.5" y1="1014.7" x2="346" y2="1014.7" stroke="#231815" stroke-width="1.7" />
<circle cx="349.2" cy="1014.7" r="3.2" stroke="#231815" stroke-width="1.8" fill="#fff" />
<line x1="317.5" y1="1047.5" x2="346" y2="1047.5" stroke="#231815" stroke-width="1.7" />
<circle cx="349.2" cy="1047.5" r="3.2" stroke="#231815" stroke-width="1.8" fill="#fff" />
<path d="M324.8 1006.7 H334.4 M329.6 1001.9 V1011.5" stroke="#231815" stroke-width="1.8"/>
<path d="M325.2 1055.8 H334.8" stroke="#231815" stroke-width="1.8"/>
<text x="327.5" y="1037.5" font-size="17" fill="#231815" font-weight="normal" text-anchor="start" font-family="Liberation Sans" textLength="46.7" lengthAdjust="spacingAndGlyphs" >DC24V</text>
<text x="410.8" y="988.7" font-size="19" fill="#231815" font-weight="normal" text-anchor="start" font-family="Liberation Sans" textLength="75.9" lengthAdjust="spacingAndGlyphs" >工作电源</text>
<line x1="413" y1="1003.3" x2="471.7" y2="1003.3" stroke="#231815" stroke-width="1.8" />
<line x1="413" y1="1032.8" x2="471.7" y2="1032.8" stroke="#231815" stroke-width="1.8" />
<line x1="435.3" y1="1003.3" x2="435.3" y2="1032.8" stroke="#231815" stroke-width="1.6" />
<line x1="443" y1="1003.3" x2="443" y2="1032.8" stroke="#231815" stroke-width="1.6" />
<line x1="471.7" y1="1003.3" x2="471.7" y2="1032.8" stroke="#231815" stroke-width="1.8" />
<circle cx="457.35" cy="1018.05" r="14.2" stroke="#231815" stroke-width="1.5" fill="#fff" />
<path d="M443.15 1018.05 H471.55 M457.35 1003.85 V1032.25" stroke="#231815" stroke-width="5.6"/>
<path d="M444.35 1018.05 H470.35 M457.35 1005.05 V1031.05" stroke="#fff" stroke-width="2.8"/>
<text x="422.65" y="1024.8" font-size="16" fill="#231815" font-weight="bold" text-anchor="middle" font-family="Liberation Sans" textLength="13" lengthAdjust="spacingAndGlyphs" stroke="#231815" stroke-width="0.45">11</text>
<line x1="413" y1="1037" x2="471.7" y2="1037" stroke="#231815" stroke-width="1.8" />
<line x1="413" y1="1066.5" x2="471.7" y2="1066.5" stroke="#231815" stroke-width="1.8" />
<line x1="435.3" y1="1037" x2="435.3" y2="1066.5" stroke="#231815" stroke-width="1.6" />
<line x1="443" y1="1037" x2="443" y2="1066.5" stroke="#231815" stroke-width="1.6" />
<line x1="471.7" y1="1037" x2="471.7" y2="1066.5" stroke="#231815" stroke-width="1.8" />
<circle cx="457.35" cy="1051.75" r="14.2" stroke="#231815" stroke-width="1.5" fill="#fff" />
<path d="M443.15 1051.75 H471.55 M457.35 1037.55 V1065.95" stroke="#231815" stroke-width="5.6"/>
<path d="M444.35 1051.75 H470.35 M457.35 1038.75 V1064.75" stroke="#fff" stroke-width="2.8"/>
<text x="422.65" y="1058.5" font-size="16" fill="#231815" font-weight="bold" text-anchor="middle" font-family="Liberation Sans" textLength="13" lengthAdjust="spacingAndGlyphs" stroke="#231815" stroke-width="0.45">12</text>
<line x1="471.7" y1="1018.7" x2="502.1" y2="1018.7" stroke="#231815" stroke-width="1.7" />
<circle cx="505.3" cy="1018.7" r="3.2" stroke="#231815" stroke-width="1.8" fill="#fff" />
<line x1="471.7" y1="1052" x2="502.1" y2="1052" stroke="#231815" stroke-width="1.7" />
<circle cx="505.3" cy="1052" r="3.2" stroke="#231815" stroke-width="1.8" fill="#fff" />
<text x="484" y="1013.3" font-size="16.2" fill="#231815" font-weight="normal" text-anchor="start" font-family="Liberation Sans" textLength="7.6" lengthAdjust="spacingAndGlyphs" >L</text>
<text x="486.3" y="1070.3" font-size="16.8" fill="#231815" font-weight="normal" text-anchor="start" font-family="Liberation Sans" textLength="7.9" lengthAdjust="spacingAndGlyphs" >N</text>
</svg></body></html>
